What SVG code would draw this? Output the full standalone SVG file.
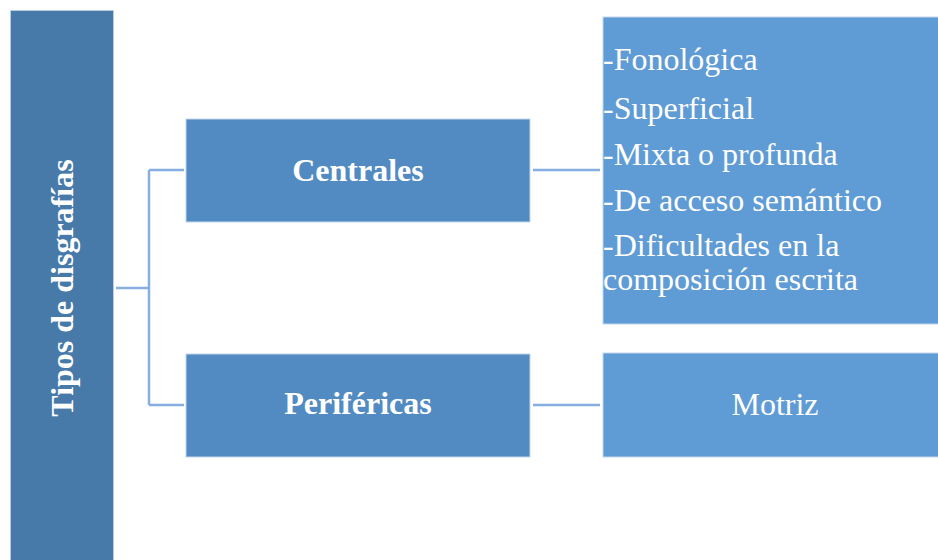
<svg xmlns="http://www.w3.org/2000/svg" width="938" height="560" viewBox="0 0 938 560">
<style>
.bar{fill:#4779a9;stroke:#b9cde6;stroke-width:1}
.mid{fill:#528bc1;stroke:#c3d6ee;stroke-width:1}
.rt{fill:#5f9bd5;stroke:#c3d6ee;stroke-width:1}
.con{fill:none;stroke:#86aee0;stroke-width:2.5}
.b{font-family:"Liberation Serif","Times New Roman",serif;font-weight:bold;font-size:32px;fill:#ffffff}
.r{font-family:"Liberation Serif","Times New Roman",serif;font-size:32px;fill:#ffffff}
</style>
<rect width="938" height="560" fill="#ffffff"/>
<g id="connectors">
<path class="con" d="M116 288H149M149 170V405M149 170H184M149 405H184"/>
<path class="con" d="M533 170H600M533 405H600"/>
</g>
<g id="tipos">
<rect class="bar" x="10.5" y="10.5" width="103" height="552"/>
<text class="b" transform="translate(73,288) rotate(-90)" text-anchor="middle">Tipos de disgrafías</text>
</g>
<g id="centrales">
<rect class="mid" x="186" y="119" width="344" height="103"/>
<text class="b" x="358" y="181" text-anchor="middle">Centrales</text>
</g>
<g id="perifericas">
<rect class="mid" x="186" y="354" width="344" height="103"/>
<text class="b" x="358" y="414" text-anchor="middle">Periféricas</text>
</g>
<g id="lista">
<rect class="rt" x="603" y="17" width="344" height="307"/>
<text class="r" x="603" y="70">-Fonológica</text>
<text class="r" x="603" y="119">-Superficial</text>
<text class="r" x="603" y="165">-Mixta o profunda</text>
<text class="r" x="603" y="211">-De acceso semántico</text>
<text class="r" x="603" y="256">-Dificultades en la</text>
<text class="r" x="603" y="290">composición escrita</text>
</g>
<g id="motriz">
<rect class="rt" x="603" y="353" width="344" height="104"/>
<text class="r" x="775" y="415" text-anchor="middle">Motriz</text>
</g>
</svg>
